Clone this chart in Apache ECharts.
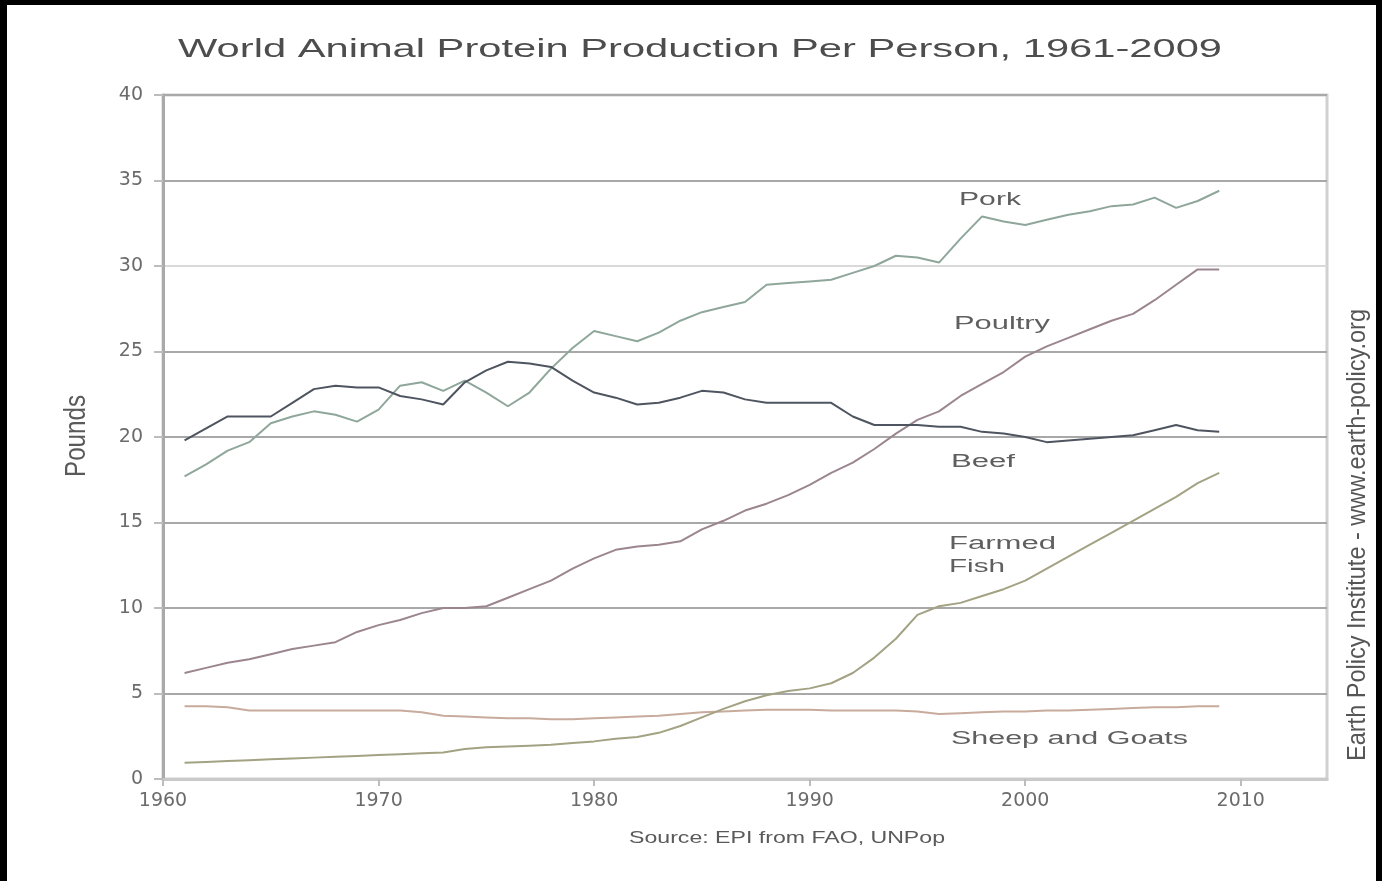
<!DOCTYPE html>
<html>
<head>
<meta charset="utf-8">
<script src="https://cdn.jsdelivr.net/npm/echarts@6/dist/echarts.min.js"></script>
<style>
  html, body { margin: 0; padding: 0; background: #fff; }
  #chart { position: absolute; left: 0; top: 0; width: 1382px; height: 881px; }
  .edge { position: absolute; background: #000; }
</style>
</head>
<body>
<div id="chart"></div>
<div class="edge" style="left:0;top:0;width:1382px;height:5px"></div>
<div class="edge" style="left:0;top:0;width:7px;height:881px"></div>
<div class="edge" style="right:0;top:0;width:6px;height:881px"></div>
<script>
// Years covered by the FAO series
const years = [1961, 1962, 1963, 1964, 1965, 1966, 1967, 1968, 1969, 1970,
  1971, 1972, 1973, 1974, 1975, 1976, 1977, 1978, 1979, 1980,
  1981, 1982, 1983, 1984, 1985, 1986, 1987, 1988, 1989, 1990,
  1991, 1992, 1993, 1994, 1995, 1996, 1997, 1998, 1999, 2000,
  2001, 2002, 2003, 2004, 2005, 2006, 2007, 2008, 2009];

// Pounds per person
const pork = [17.7, 18.4, 19.2, 19.7, 20.8, 21.2, 21.5, 21.3, 20.9, 21.6,
  23.0, 23.2, 22.7, 23.3, 22.6, 21.8, 22.6, 24.0, 25.2, 26.2,
  25.9, 25.6, 26.1, 26.8, 27.3, 27.6, 27.9, 28.9, 29.0, 29.1,
  29.2, 29.6, 30.0, 30.6, 30.5, 30.2, 31.6, 32.9, 32.6, 32.4,
  32.7, 33.0, 33.2, 33.5, 33.6, 34.0, 33.4, 33.8, 34.4];

const beef = [19.8, 20.5, 21.2, 21.2, 21.2, 22.0, 22.8, 23.0, 22.9, 22.9,
  22.4, 22.2, 21.9, 23.2, 23.9, 24.4, 24.3, 24.1, 23.3, 22.6,
  22.3, 21.9, 22.0, 22.3, 22.7, 22.6, 22.2, 22.0, 22.0, 22.0,
  22.0, 21.2, 20.7, 20.7, 20.7, 20.6, 20.6, 20.3, 20.2, 20.0,
  19.7, 19.8, 19.9, 20.0, 20.1, 20.4, 20.7, 20.4, 20.3];

const poultry = [6.2, 6.5, 6.8, 7.0, 7.3, 7.6, 7.8, 8.0, 8.6, 9.0,
  9.3, 9.7, 10.0, 10.0, 10.1, 10.6, 11.1, 11.6, 12.3, 12.9,
  13.4, 13.6, 13.7, 13.9, 14.6, 15.1, 15.7, 16.1, 16.6, 17.2,
  17.9, 18.5, 19.3, 20.2, 21.0, 21.5, 22.4, 23.1, 23.8, 24.7,
  25.3, 25.8, 26.3, 26.8, 27.2, 28.0, 28.9, 29.8, 29.8];

const farmedFish = [0.95, 1.0, 1.05, 1.1, 1.15, 1.2, 1.25, 1.3, 1.35, 1.4,
  1.45, 1.5, 1.55, 1.75, 1.85, 1.9, 1.95, 2.0, 2.1, 2.2,
  2.35, 2.45, 2.7, 3.1, 3.6, 4.1, 4.55, 4.9, 5.15, 5.3,
  5.6, 6.2, 7.1, 8.2, 9.6, 10.1, 10.3, 10.7, 11.1, 11.6,
  12.3, 13.0, 13.7, 14.4, 15.1, 15.8, 16.5, 17.3, 17.9];

const sheepGoats = [4.25, 4.25, 4.2, 4.0, 4.0, 4.0, 4.0, 4.0, 4.0, 4.0,
  4.0, 3.9, 3.7, 3.65, 3.6, 3.55, 3.55, 3.5, 3.5, 3.55,
  3.6, 3.65, 3.7, 3.8, 3.9, 3.95, 4.0, 4.05, 4.05, 4.05,
  4.0, 4.0, 4.0, 4.0, 3.95, 3.8, 3.85, 3.9, 3.95, 3.95,
  4.0, 4.0, 4.05, 4.1, 4.15, 4.2, 4.2, 4.25, 4.25];

// Decade ticks along the bottom axis
const xTicks = [1960, 1970, 1980, 1990, 2000, 2010];

function pairs(values) {
  return years.map((yr, i) => [yr, values[i]]);
}

// Text is drawn wide; measure it and stretch it to fill its box.
const measureCtx = document.createElement('canvas').getContext('2d');
function textWidth(text, size, family) {
  measureCtx.font = size + 'px ' + family;
  return measureCtx.measureText(text).width;
}
function stretchedText(opt) {
  const family = opt.family || '"Liberation Sans", Arial, sans-serif';
  const el = {
    type: 'text',
    x: opt.x,
    y: opt.y,
    silent: true,
    z: 100,
    scaleX: opt.len / textWidth(opt.text, opt.size, family),
    scaleY: opt.thick || 1,
    style: {
      text: opt.text,
      fontSize: opt.size,
      fontFamily: family,
      fill: opt.color || '#555',
      align: opt.align || 'left',
      textAlign: opt.align || 'left',
      verticalAlign: 'middle',
      textVerticalAlign: 'middle'
    }
  };
  if (opt.rotate) el.rotation = opt.rotate;
  return el;
}

const textItems = [
  { text: 'World Animal Protein Production Per Person, 1961-2009', x: 700, y: 50, size: 25, len: 1044, align: 'center', color: '#4d4d4d' },
  { text: 'Source: EPI from FAO, UNPop', x: 787, y: 838, size: 17, len: 316, align: 'center', color: '#5a5a5a' },
  { text: 'Pounds', x: 77, y: 436, size: 20, len: 82, align: 'center', rotate: Math.PI / 2, thick: 1.5, color: '#5a5a5a' },
  { text: 'Earth Policy Institute - www.earth-policy.org', x: 1358, y: 535, size: 18, len: 452, align: 'center', rotate: Math.PI / 2, thick: 1.4, color: '#555555' },
  { text: 'Pork', x: 959, y: 200, size: 18, len: 62, color: '#5f5f5f' },
  { text: 'Poultry', x: 954, y: 324, size: 18, len: 96, color: '#5f5f5f' },
  { text: 'Beef', x: 951, y: 462, size: 18, len: 64, color: '#5f5f5f' },
  { text: 'Farmed', x: 949, y: 544, size: 18, len: 107, color: '#5f5f5f' },
  { text: 'Fish', x: 949, y: 567, size: 18, len: 56, color: '#5f5f5f' },
  { text: 'Sheep and Goats', x: 951, y: 739, size: 18, len: 237, color: '#5f5f5f' }
];

const lineColors = {
  'Pork': '#8fa79b',
  'Beef': '#4f5560',
  'Poultry': '#9b8690',
  'Farmed Fish': '#a3a283',
  'Sheep and Goats': '#c8ab9d'
};
const seriesValues = {
  'Pork': pork,
  'Beef': beef,
  'Poultry': poultry,
  'Farmed Fish': farmedFish,
  'Sheep and Goats': sheepGoats
};
const drawOrder = ['Sheep and Goats', 'Farmed Fish', 'Poultry', 'Pork', 'Beef'];

const chart = echarts.init(document.getElementById('chart'), null, { renderer: 'canvas' });

chart.setOption({
  animation: false,
  backgroundColor: '#ffffff',
  grid: {
    left: 163, right: 55, top: 95, bottom: 102,
    show: true, borderColor: '#d0d0d0', borderWidth: 3, backgroundColor: 'transparent'
  },
  xAxis: {
    type: 'value', min: 1960, max: 2014, interval: 10,
    axisLine: { show: true, onZero: false, lineStyle: { color: '#c9c9c9', width: 3 } },
    axisTick: { show: true, length: 7, customValues: xTicks, lineStyle: { color: '#bdbdbd', width: 2 } },
    axisLabel: {
      customValues: xTicks, margin: 13,
      formatter: v => String(v),
      fontFamily: '"DejaVu Sans", sans-serif', fontSize: 19, color: '#6b6b6b'
    },
    splitLine: { show: false }
  },
  yAxis: {
    type: 'value', min: 0, max: 40, interval: 5,
    axisLine: { show: true, lineStyle: { color: '#a9a9a9', width: 3 } },
    axisTick: { show: true, length: 9, lineStyle: { color: '#bdbdbd', width: 2 } },
    axisLabel: {
      margin: 20, fontFamily: '"DejaVu Sans", sans-serif', fontSize: 19, color: '#6b6b6b'
    },
    splitLine: {
      show: true,
      lineStyle: {
        width: 2,
        color: ['#cacaca', '#a8a8a8', '#a8a8a8', '#a8a8a8', '#a8a8a8', '#a8a8a8', '#d9d9d9', '#a8a8a8', '#a8a8a8']
      }
    }
  },
  series: drawOrder.map(name => ({
    name: name,
    type: 'line',
    data: pairs(seriesValues[name]),
    symbol: 'none',
    smooth: false,
    lineStyle: { color: lineColors[name], width: 2 },
    z: 3
  })),
  graphic: textItems.map(stretchedText)
});
</script>
</body>
</html>
